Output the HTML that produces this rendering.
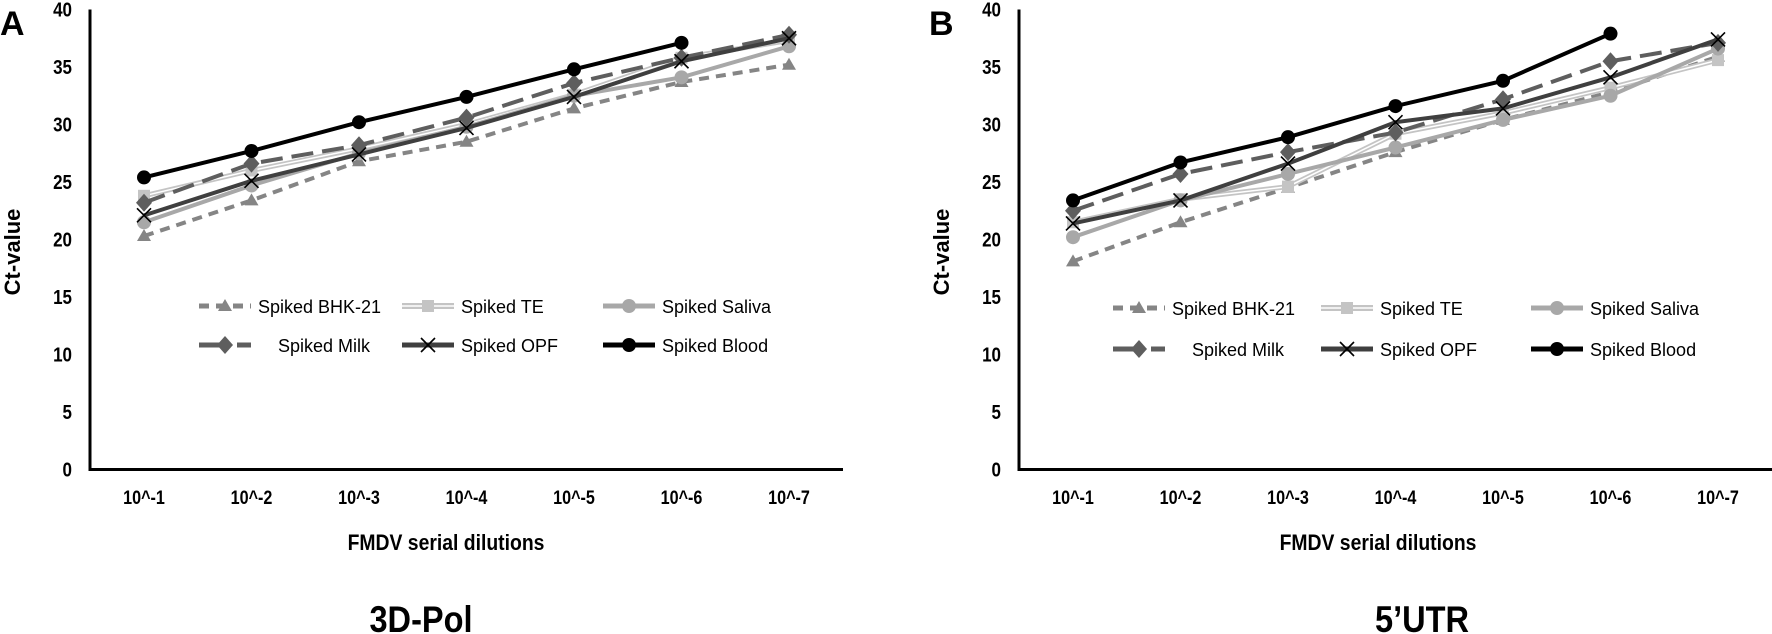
<!DOCTYPE html>
<html><head><meta charset="utf-8"><style>
html,body{margin:0;padding:0;background:#fff;}
svg{display:block;font-family:"Liberation Sans",Arial,sans-serif;}
</style></head><body>
<svg id="chart" width="1772" height="634" viewBox="0 0 1772 634"></svg>
<script>
const categories = ["10^-1","10^-2","10^-3","10^-4","10^-5","10^-6","10^-7"];
const yTicks = [0,5,10,15,20,25,30,35,40];
const seriesNames = ["Spiked BHK-21","Spiked TE","Spiked Saliva","Spiked Milk","Spiked OPF","Spiked Blood"];
// Panel A (3D-Pol)
const aBHK = [20.3,23.4,26.8,28.5,31.4,33.7,35.2];
const aTE = [23.8,26.0,27.9,30.0,32.6,35.8,37.3];
const aSaliva = [21.5,24.7,27.5,29.8,32.5,34.1,36.8];
const aMilk = [23.2,26.6,28.2,30.6,33.6,35.8,37.8];
const aOPF = [22.1,25.1,27.4,29.7,32.4,35.5,37.5];
const aBlood = [25.4,27.7,30.2,32.4,34.8,37.1,null];
// Panel B (5'UTR)
const bBHK = [18.1,21.5,24.5,27.6,30.4,32.8,35.9];
const bTE = [21.5,23.5,24.6,29.2,31.0,33.2,35.6];
const bSaliva = [20.2,23.4,25.7,28.0,30.4,32.5,36.6];
const bMilk = [22.5,25.7,27.6,29.3,32.2,35.5,37.1];
const bOPF = [21.4,23.4,26.6,30.2,31.4,34.1,37.4];
const bBlood = [23.4,26.7,28.9,31.6,33.8,37.9,null];

const NS="http://www.w3.org/2000/svg";
const svg=document.getElementById('chart');
function mk(tag,attrs,parent){const e=document.createElementNS(NS,tag);for(const k in attrs)e.setAttribute(k,attrs[k]);(parent||svg).appendChild(e);return e;}

const styles=[
 {color:"#858585",w:4,dash:"10,7",marker:"tri"},
 {color:"#c4c4c4",w:5,dash:"",marker:"sq",double:true},
 {color:"#a8a8a8",w:4,dash:"",marker:"circ"},
 {color:"#5e5e5e",w:4,dash:"22,9",marker:"dia"},
 {color:"#3f3f3f",w:4,dash:"",marker:"x"},
 {color:"#000000",w:4,dash:"",marker:"dot"}
];

function marker(g,type,x,y,color){
 let e;
 if(type==="tri") e=mk('polygon',{points:`${x},${y-7} ${x-7},${y+5} ${x+7},${y+5}`,fill:color},g);
 else if(type==="sq") e=mk('rect',{x:x-6,y:y-6,width:12,height:12,fill:color},g);
 else if(type==="circ") e=mk('circle',{cx:x,cy:y,r:7,fill:color},g);
 else if(type==="dia") e=mk('polygon',{points:`${x},${y-9} ${x+8},${y} ${x},${y+9} ${x-8},${y}`,fill:color},g);
 else if(type==="x") e=mk('path',{d:`M${x-7},${y-7}L${x+7},${y+7}M${x+7},${y-7}L${x-7},${y+7}`,stroke:"#000","stroke-width":1.6},g);
 else e=mk('circle',{cx:x,cy:y,r:7,fill:color},g);
 
 
}

function panel(cfg){
 const {ox,letter,title,data,legendX,legendY,titleX,xtitleX,pid}=cfg;
 const g=mk('g',{});
 
 
 const x0=ox, y0=469.5, ppu=11.5, xEnd=ox+753;
 const cx=i=>ox+54+107.5*i;
 const yv=v=>y0-v*ppu;
 const L=mk('text',{x:ox-90,y:35,"font-size":34,"font-weight":"bold"},g);L.textContent=letter;
 
 const ax=mk('path',{d:`M${x0},${yv(40)}L${x0},${y0}L${xEnd},${y0}`,fill:"none",stroke:"#000","stroke-width":3},g);
 
 yTicks.forEach(t=>{const e=mk('text',{x:ox-18,y:yv(t)+7,"text-anchor":"end","font-size":20,"font-weight":"bold",transform:`translate(${ox-18},0) scale(0.85,1) translate(${-(ox-18)},0)`},g);e.textContent=t;
  });
 categories.forEach((c,i)=>{const e=mk('text',{x:0,y:504,"text-anchor":"middle","font-size":19,"font-weight":"bold",transform:`translate(${cx(i)},0) scale(0.85,1)`},g);e.textContent=c;
  });
 const yt=mk('text',{x:0,y:0,"text-anchor":"middle","font-size":22,"font-weight":"bold",transform:`translate(${ox-70},252) rotate(-90)`},g);yt.textContent="Ct-value";
 
 const xt=mk('text',{x:0,y:550,"text-anchor":"middle","font-size":22,"font-weight":"bold",transform:`translate(${xtitleX},0) scale(0.88,1)`},g);xt.textContent="FMDV serial dilutions";
 
 const tt=mk('text',{x:0,y:632,"text-anchor":"middle","font-size":37,"font-weight":"bold",transform:`translate(${titleX},0) scale(0.88,1)`},g);tt.textContent=title;
 
 data.forEach((arr,si)=>{
  const s=styles[si];
  const sg=mk('g',{},g);
  
  
  let d="";arr.forEach((v,i)=>{if(v==null)return;d+=(d?"L":"M")+cx(i)+","+yv(v);});
  mk('path',{d,fill:"none",stroke:s.color,"stroke-width":s.w,"stroke-dasharray":s.dash},sg);
  if(s.double) mk('path',{d,fill:"none",stroke:"#fff","stroke-width":1.5},sg);
  arr.forEach((v,i)=>{if(v==null)return;marker(sg,s.marker,cx(i),yv(v),s.color);});
 });
 // legend
 seriesNames.forEach((n,si)=>{
  const s=styles[si];
  const col=si%3,row=Math.floor(si/3);
  const lx=legendX[col],ly=legendY[row];
  const lg=mk('g',{},g);
  
  
  mk('path',{d:`M${lx},${ly}L${lx+52},${ly}`,stroke:s.color,"stroke-width":s.w+1,"stroke-dasharray":s.dash?(si===0?"10,7":"30,8"):""},lg);
  if(s.double) mk('path',{d:`M${lx},${ly}L${lx+52},${ly}`,stroke:"#fff","stroke-width":1.5},lg);
  marker(lg,s.marker,lx+26,ly,s.color);
  const t=mk('text',{x:lx+59+(si===3?20:0),y:ly+7,"font-size":18,fill:"#000"},lg);t.textContent=n;
 });
}
panel({pid:'panel-a',ox:90,letter:"A",title:"3D-Pol",data:[aBHK,aTE,aSaliva,aMilk,aOPF,aBlood],legendX:[199,402,603],legendY:[306,345],titleX:421,xtitleX:446});
panel({pid:'panel-b',ox:1019,letter:"B",title:"5\u2019UTR",data:[bBHK,bTE,bSaliva,bMilk,bOPF,bBlood],legendX:[1113,1321,1531],legendY:[308,349],titleX:1422,xtitleX:1378});
</script>
</body></html>
